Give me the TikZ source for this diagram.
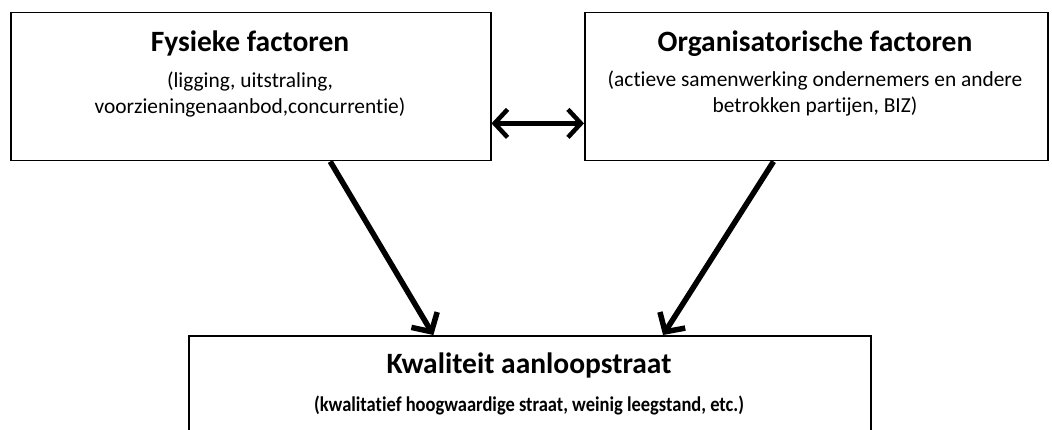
\documentclass[tikz,border=0pt]{standalone}
\usepackage{fontspec}
\setmainfont{Carlito}[Ligatures=NoCommon]
\usetikzlibrary{arrows.meta,calc}

\tikzset{
  factorbox/.style={draw, line width=1.5pt, minimum width=#1, minimum height=148pt, inner sep=0pt, anchor=north west},
  titel/.style={anchor=base, inner sep=0pt, font=\fontsize{29.5}{32}\selectfont\bfseries},
  tekst/.style={anchor=base, inner sep=0pt, font=\fontsize{21.4}{24}\selectfont},
  tekstvet/.style={anchor=base, inner sep=0pt, font=\fontsize{21}{24}\selectfont\bfseries},
  pijl/.style={line width=5.5pt, -{Straight Barb[length=14pt,width=30pt]}},
  dubbelpijl/.style={line width=4.5pt, {Straight Barb[length=13pt,width=28pt]}-{Straight Barb[length=13pt,width=28pt]}}
}

\begin{document}
\begin{tikzpicture}[x=1pt,y=-1pt]
    \useasboundingbox (0,0) rectangle (1052,430);
    % de drie kaders
    \node[factorbox=480pt] (fys) at (10,12) {};
    \node[factorbox=463pt] (org) at (584,12) {};
    \node[factorbox=682pt, minimum height=160pt] (kwal) at (188,335) {};
    % teksten
    \node[titel] (fystitel) at (250,52) {Fysieke factoren};
    \node[tekst] (fysregel1) at (250,88) {(ligging, uitstraling,};
    \node[tekst] (fysregel2) at (250,114) {voorzieningenaanbod,concurrentie)};
    \node[titel] (orgtitel) at (815,52) {Organisatorische factoren};
    \node[tekst] (orgregel1) at (815,87) {(actieve samenwerking ondernemers en andere};
    \node[tekst] (orgregel2) at (815,113) {betrokken partijen, BIZ)};
    \node[titel] (kwaltitel) at (529,373) {Kwaliteit aanloopstraat};
    \node[tekstvet] (kwalregel) at (529,411) {\scalebox{0.88}[1]{(kwalitatief hoogwaardige straat, weinig leegstand, etc.)}};
    % pijlen
    \draw[dubbelpijl] ($(fys.north east)!0.745!(fys.south east)$) -- ($(org.north west)!0.745!(org.south west)$);
    \draw[pijl] ($(fys.south west)!0.665!(fys.south east)$) -- ($(kwal.north west)!0.359!(kwal.north east)$);
    \draw[pijl] ($(org.south west)!0.408!(org.south east)$) -- ($(kwal.north west)!0.695!(kwal.north east)$);
\end{tikzpicture}
\end{document}
